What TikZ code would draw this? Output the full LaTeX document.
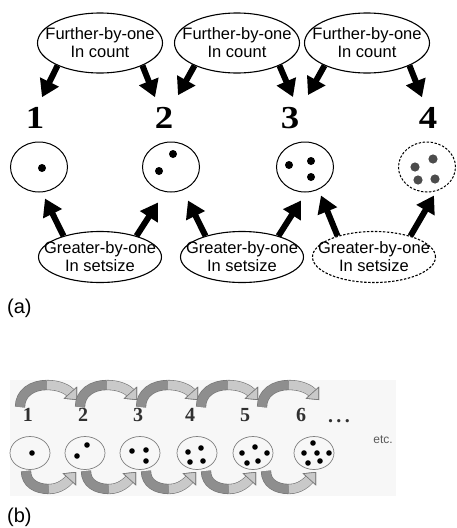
\documentclass[tikz,border=0pt]{standalone}
\usepackage{fontspec}
\setmainfont{Liberation Sans}
\newfontfamily\digitfont{Liberation Serif}
\usetikzlibrary{shapes.geometric,arrows.meta}
\definecolor{ribdark}{HTML}{8E8E8E}
\definecolor{riblight}{HTML}{C9C9C9}
\definecolor{ribedge}{HTML}{747474}
\definecolor{numgrey}{HTML}{303030}

\begin{document}
\begin{tikzpicture}[x=1pt, y=-1pt,
  bubble/.style={draw, ellipse, line width=1.1pt, minimum width=125pt, minimum height=60pt,
    inner xsep=-16pt, inner ysep=-4pt, align=center, font=\fontsize{16.5}{18}\selectfont},
  maybe/.style={dash pattern=on 2.4pt off 1.6pt},
  setring/.style={draw, ellipse, line width=1pt, minimum width=57pt, minimum height=50pt},
  smallring/.style={draw=black!50, ellipse, line width=0.7pt, minimum width=40pt, minimum height=33pt},
  bignum/.style={inner sep=0pt, font=\digitfont\bfseries\fontsize{32}{32}\selectfont},
  smallnum/.style={inner sep=0pt, text=numgrey, font=\digitfont\bfseries\fontsize{20}{20}\selectfont},
  fat/.style={line width=6pt, -{Triangle[length=17pt,width=20pt]}},
  ribA/.style={line width=9pt, draw=ribdark, preaction={draw=ribedge, line width=10.2pt}},
  ribB/.style={line width=9pt, draw=riblight, preaction={draw=ribedge, line width=10.2pt},
    -{Triangle[length=10pt,width=18pt,fill=riblight,color=ribedge,line width=0.6pt]}}]

\useasboundingbox (0,0) rectangle (456,528);
\def \dotr {4}
\def \sdotr {2.8}

% (a) counting bubbles on top
  \node[bubble] (further1) at (100,43) {Further-by-one\\In count};
  \node[bubble] (further2) at (237,43) {Further-by-one\\In count};
  \node[bubble] (further3) at (367,43) {Further-by-one\\In count};
%
  \node[bignum] (n1) at (35,118) {\scalebox{1.15}[1]{1}};
  \node[bignum] (n2) at (164,118) {\scalebox{1.15}[1]{2}};
  \node[bignum] (n3) at (290,118) {\scalebox{1.15}[1]{3}};
  \node[bignum] (n4) at (428,118) {\scalebox{1.15}[1]{4}};
%
  \draw[fat] (further1.208) -- ([shift={(7,-10)}]n1.north);
  \draw[fat] (further1.332) -- ([shift={(-9,-10)}]n2.north);
  \draw[fat] (further2.208) -- ([shift={(14,-12)}]n2.north);
  \draw[fat] (further2.332) -- ([shift={(3,-10)}]n3.north);
  \draw[fat] (further3.208) -- ([shift={(18,-12)}]n3.north);
  \draw[fat] (further3.332) -- ([shift={(-6,-10)}]n4.north);
%
% (a) sets
  \node[setring] (set1) at (39,167) {};
  \node[setring] (set2) at (171,167) {};
  \node[setring] (set3) at (305,167) {};
  \node[setring, maybe] (set4) at (427,167) {};
  \fill (42,168) circle (\dotr);
  \fill (173,154) circle (\dotr);
  \fill (159,171) circle (\dotr);
  \fill (289,165) circle (\dotr);
  \fill (311,161) circle (\dotr);
  \fill (311,177) circle (\dotr);
  \fill[black!70] (415,167) circle (4.6);
  \fill[black!70] (433,159) circle (4.6);
  \fill[black!70] (418,180) circle (4.6);
  \fill[black!70] (435,179) circle (4.6);
%
  \node[bubble, minimum width=123pt, minimum height=51pt] (greater1) at (100,257) {Greater-by-one\\In setsize};
  \node[bubble, minimum width=123pt, minimum height=51pt] (greater2) at (242,257) {Greater-by-one\\In setsize};
  \node[bubble, maybe, minimum width=123pt, minimum height=51pt] (greater3) at (374,257) {Greater-by-one\\In setsize};
%
  \draw[fat] (greater1.150) -- ([shift={(6,6)}]set1.south);
  \draw[fat] (greater1.30) -- ([shift={(-13,10)}]set2.south);
  \draw[fat] (greater2.150) -- ([shift={(17,8)}]set2.south);
  \draw[fat] (greater2.30) -- ([shift={(-4,8)}]set3.south);
  \draw[fat] (greater3.150) -- ([shift={(16,3)}]set3.south);
  \draw[fat] (greater3.30) -- ([shift={(7,3)}]set4.south);
%
  \node[anchor=west, inner sep=0pt, font=\fontsize{20}{20}\selectfont] (capa) at (7,308) {(a)};
%
% (b) strip
  \fill[black!3] (10,380) rectangle (396,496);
  \node[smallnum] (m1) at (28,415) {1};
  \node[smallnum] (m2) at (83,415) {2};
  \node[smallnum] (m3) at (138,415) {3};
  \node[smallnum] (m4) at (190,415) {4};
  \node[smallnum] (m5) at (245,415) {5};
  \node[smallnum] (m6) at (301,415) {6};
  \node[smallnum, anchor=base] (more) at (339,422) {.\,.\,.};
  \node[inner sep=0pt, text=black!65, font=\fontsize{12}{12}\selectfont] (etc) at (383,440) {etc.};
%
  \node[smallring] (s1) at (30,453) {};
  \node[smallring] (s2) at (85,453) {};
  \node[smallring] (s3) at (140,453) {};
  \node[smallring] (s4) at (197,453) {};
  \node[smallring] (s5) at (253,453) {};
  \node[smallring] (s6) at (314,453) {};
  \fill (32,453) circle (\sdotr);
  \fill (87,445) circle (\sdotr);
  \fill (77,456) circle (\sdotr);
  \fill (132,451) circle (\sdotr);
  \fill (146,450) circle (\sdotr);
  \fill (146,461) circle (\sdotr);
  \fill (188,452) circle (\sdotr);
  \fill (201,448) circle (\sdotr);
  \fill (190,462) circle (\sdotr);
  \fill (203,461) circle (\sdotr);
  \fill (242,453) circle (\sdotr);
  \fill (255,447) circle (\sdotr);
  \fill (267,453) circle (\sdotr);
  \fill (247,463) circle (\sdotr);
  \fill (258,461) circle (\sdotr);
  \fill (313,443) circle (\sdotr);
  \fill (304,453) circle (\sdotr);
  \fill (317,453) circle (\sdotr);
  \fill (329,453) circle (\sdotr);
  \fill (308,463) circle (\sdotr);
  \fill (320,461) circle (\sdotr);
%
% ribbons over the numbers
  \draw[ribA] (20,407) .. controls (20,393) and (32,385) .. (47,385);
  \draw[ribB] (47,385) .. controls (60,385) and (68,390) .. (77,400);
  \draw[ribA] (80,407) .. controls (80,393) and (92,385) .. (107,385);
  \draw[ribB] (107,385) .. controls (120,385) and (128,390) .. (137,400);
  \draw[ribA] (141,407) .. controls (141,393) and (153,385) .. (168,385);
  \draw[ribB] (168,385) .. controls (181,385) and (189,390) .. (198,400);
  \draw[ribA] (201,407) .. controls (201,393) and (213,385) .. (228,385);
  \draw[ribB] (228,385) .. controls (241,385) and (249,390) .. (258,400);
  \draw[ribA] (262,407) .. controls (262,393) and (274,385) .. (289,385);
  \draw[ribB] (289,385) .. controls (302,385) and (310,390) .. (319,400);
%
% ribbons under the sets
  \draw[ribA] (26,471) .. controls (26,483) and (36,489) .. (49,489);
  \draw[ribB] (49,489) .. controls (60,489) and (67,482) .. (76,472);
  \draw[ribA] (86,471) .. controls (86,483) and (96,489) .. (109,489);
  \draw[ribB] (109,489) .. controls (120,489) and (127,482) .. (136,472);
  \draw[ribA] (146,471) .. controls (146,483) and (156,489) .. (169,489);
  \draw[ribB] (169,489) .. controls (180,489) and (187,482) .. (196,472);
  \draw[ribA] (206,471) .. controls (206,483) and (216,489) .. (229,489);
  \draw[ribB] (229,489) .. controls (240,489) and (247,482) .. (256,472);
  \draw[ribA] (266,471) .. controls (266,483) and (276,489) .. (289,489);
  \draw[ribB] (289,489) .. controls (300,489) and (307,482) .. (316,472);
%
  \node[anchor=west, inner sep=0pt, font=\fontsize{20}{20}\selectfont] (capb) at (7,517) {(b)};
%
\end{tikzpicture}
\end{document}
